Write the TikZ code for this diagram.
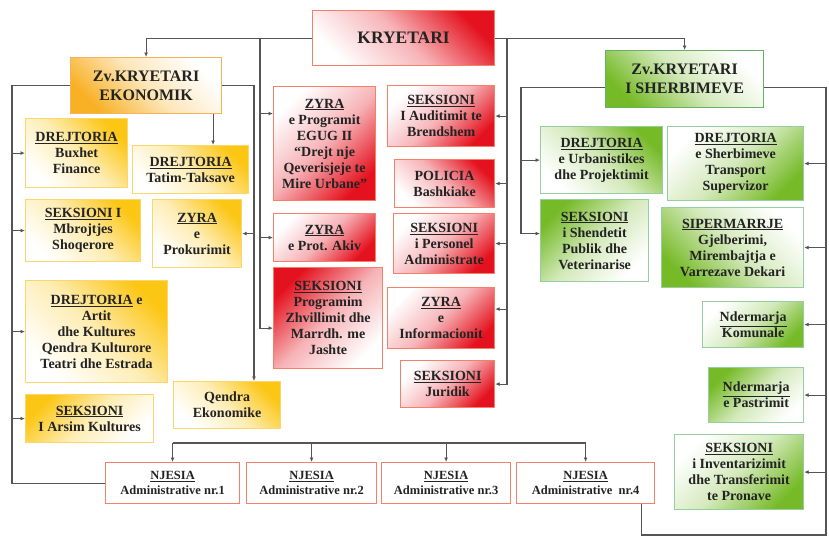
\documentclass[tikz,border=0pt]{standalone}
\usepackage{fontspec}
\setmainfont{Liberation Serif}
\usetikzlibrary{positioning, arrows.meta}

\definecolor{gold}{RGB}{252,198,20}
\definecolor{goldline}{RGB}{250,214,110}
\definecolor{orng}{RGB}{248,176,36}
\definecolor{orngline}{RGB}{246,178,88}
\definecolor{redf}{RGB}{228,18,30}
\definecolor{redline}{RGB}{244,128,108}
\definecolor{grnf}{RGB}{118,186,40}
\definecolor{grnline}{RGB}{150,206,160}
\definecolor{grnedge}{RGB}{104,176,104}
\definecolor{wire}{RGB}{85,85,85}
\definecolor{ink}{RGB}{35,35,35}
\newcommand{\hd}[1]{\underline{#1}}

\begin{document}
\begin{tikzpicture}[
    x=1pt, y=-1pt,
    box/.style={
        draw,
        line width=1.2pt,
        anchor=north west,
        align=center,
        inner sep=2pt,
        text=ink,
        font=\fontsize{14}{16}\selectfont\bfseries
    },
    wh/.style 2 args={minimum width=#1, minimum height=#2},
    tint/.style 2 args={
        top color=white,
        bottom color=#1,
        middle color=white!68!#1,
        shading angle=#2
    },
    ybox/.style={box, draw=goldline, tint={gold}{#1}},
    ybox/.default=135,
    rbox/.style={box, draw=redline, tint={redf}{#1}},
    rbox/.default=45,
    gbox/.style={box, draw=grnline, tint={grnf}{#1}},
    gbox/.default=45,
    nbox/.style={
        box,
        draw=redline,
        fill=white,
        font=\fontsize{12.5}{15}\selectfont\bfseries
    },
    arrow/.style={
        -{Latex[length=4.5pt, width=4pt]},
        line width=1.1pt,
        draw=wire
    },
    wireline/.style={
        line width=1.1pt,
        draw=wire
    }
]
\useasboundingbox (0,0) rectangle (829,536);

\node[rbox=135, wh={182}{55}, font=\fontsize{17.5}{20}\selectfont\bfseries] (kry) at (312,10) {KRYETARI};

\node[box, draw=orngline, tint={orng}{-45}, wh={151}{56}, font=\fontsize{16}{19}\selectfont\bfseries] (ekon) at (70,57)
    {Zv.KRYETARI\\EKONOMIK};

\node[box, draw=grnedge, tint={grnf}{-45}, wh={158}{57}, font=\fontsize{16}{19}\selectfont\bfseries] (sherb) at (605,50)
    {Zv.KRYETARI\\I SHERBIMEVE};

\node[ybox, wh={102}{69}] (buxhet) at (25,118) {\hd{DREJTORIA}\\Buxhet\\Finance};
\node[ybox, wh={116}{48}] (tatim) at (132,145) {\hd{DREJTORIA}\\Tatim-Taksave};
\node[ybox, wh={115}{62}] (mbrojt) at (25,199) {\hd{SEKSIONI} I\\Mbrojtjes\\Shoqerore};
\node[ybox, wh={89}{68}] (prokur) at (152,199) {\hd{ZYRA}\\e\\Prokurimit};
\node[ybox, wh={142}{102}] (artit) at (25,280)
    {\hd{DREJTORIA} e\\Artit\\dhe Kultures\\Qendra Kulturore\\Teatri dhe Estrada};
\node[ybox=-135, wh={128}{48}] (arsim) at (25,394) {\hd{SEKSIONI}\\I Arsim Kultures};
\node[ybox, wh={107}{47}] (qendra) at (173,381) {Qendra\\Ekonomike};

\node[rbox, wh={102}{114}] (egug) at (273,86)
    {\hd{ZYRA}\\e Programit\\EGUG II\\``Drejt nje\\Qeverisjeje te\\Mire Urbane''};
\node[rbox, wh={102}{48}] (akiv) at (273,213) {\hd{ZYRA}\\e Prot. Akiv};
\node[rbox=-135, wh={109}{101}] (programim) at (273,267)
    {\hd{SEKSIONI}\\Programim\\Zhvillimit dhe\\Marrdh. me\\Jashte};

\node[rbox, wh={107}{61}] (audit) at (387,85) {\hd{SEKSIONI}\\I Auditimit te\\Brendshem};
\node[rbox=135, wh={100}{48}] (policia) at (394,159) {POLICIA\\Bashkiake};
\node[rbox, wh={101}{60}] (personel) at (393,213) {\hd{SEKSIONI}\\i Personel\\Administrate};
\node[rbox, wh={107}{61}] (inform) at (387,287) {\hd{ZYRA}\\e\\Informacionit};
\node[rbox, wh={94}{47}] (juridik) at (400,360) {\hd{SEKSIONI}\\Juridik};

\node[gbox=135, wh={122}{67}] (urban) at (540,126) {\hd{DREJTORIA}\\e Urbanistikes\\dhe Projektimit};
\node[gbox, wh={136}{74}] (transport) at (667,126)
    {\hd{DREJTORIA}\\e Sherbimeve\\Transport\\Supervizor};
\node[gbox=-135, wh={108}{82}] (shendet) at (540,199)
    {\hd{SEKSIONI}\\i Shendetit\\Publik dhe\\Veterinarise};
\node[gbox=-45, wh={142}{80}] (siperm) at (661,207)
    {\hd{SIPERMARRJE}\\Gjelberimi,\\Mirembajtja e\\Varrezave Dekari};
\node[gbox, wh={101}{46}] (komunale) at (702,301) {\hd{Ndermarja}\\Komunale};
\node[gbox=-135, wh={95}{55}] (pastrim) at (708,367) {\hd{Ndermarja}\\e Pastrimit};
\node[gbox, wh={129}{75}] (invent) at (674,434)
    {\hd{SEKSIONI}\\i Inventarizimit\\dhe Transferimit\\te Pronave};

\node[nbox, wh={134}{41}] (nj1) at (105,462) {\hd{NJESIA}\\Administrative nr.1};
\node[nbox, wh={130}{41}] (nj2) at (246,462) {\hd{NJESIA}\\Administrative nr.2};
\node[nbox, wh={129}{41}] (nj3) at (381,462) {\hd{NJESIA}\\Administrative nr.3};
\node[nbox, wh={138}{41}] (nj4) at (516,462) {\hd{NJESIA}\\Administrative\ \ nr.4};

\coordinate (busl) at (12,0);
\coordinate (buse) at (254,0);
\coordinate (busm) at (260,0);
\coordinate (busr) at (507,0);
\coordinate (buss) at (521,0);
\coordinate (busf) at (826,0);
\coordinate (busb) at (0,443);
\coordinate (foot) at (0,535);

\draw[arrow] (kry.west) -| (ekon.north);
\draw[arrow] (kry.east) -| (sherb.north);

\draw[arrow] (kry.west -| busm) |- ([yshift=-10]programim.west);
\draw[arrow] ([yshift=30]egug.west -| busm) -- ([yshift=30]egug.west);
\draw[arrow] (akiv.west -| busm) -- (akiv.west);

\draw[arrow] (ekon.east) -| (qendra.north -| buse);
\draw[arrow] (prokur.east -| buse) -- (prokur.east);
\draw[arrow] ([xshift=67]ekon.south) -- ([xshift=67]ekon.south |- tatim.north);

\draw[wireline] (ekon.west) -| (busl |- nj1.west) -- (nj1.west);
\draw[arrow] (buxhet.west -| busl) -- (buxhet.west);
\draw[arrow] (mbrojt.west -| busl) -- (mbrojt.west);
\draw[arrow] (artit.west -| busl) -- (artit.west);
\draw[arrow] (arsim.west -| busl) -- (arsim.west);

\draw[arrow] (kry.east -| busr) |- (juridik.east);
\draw[arrow] (audit.east -| busr) -- (audit.east);
\draw[arrow] (policia.east -| busr) -- (policia.east);
\draw[arrow] (personel.east -| busr) -- (personel.east);
\draw[arrow] ([yshift=9]inform.east -| busr) -- ([yshift=9]inform.east);

\draw[arrow] ([yshift=-8]sherb.west) -| ([yshift=7]shendet.west -| buss) -- ([yshift=7]shendet.west);
\draw[arrow] (urban.west -| buss) -- (urban.west);

\draw[wireline] ([yshift=-8]sherb.east) -| (busf |- foot) -| ([xshift=56]nj4.south);
\draw[arrow] (transport.east -| busf) -- (transport.east);
\draw[arrow] (siperm.east -| busf) -- (siperm.east);
\draw[arrow] (komunale.east -| busf) -- (komunale.east);
\draw[arrow] (pastrim.east -| busf) -- (pastrim.east);
\draw[arrow] (invent.east -| busf) -- (invent.east);

\draw[wireline] (busb -| nj1.north) -- (busb -| nj4.north);
\draw[arrow] (busb -| nj1.north) -- (nj1.north);
\draw[arrow] (busb -| nj2.north) -- (nj2.north);
\draw[arrow] (busb -| nj3.north) -- (nj3.north);
\draw[arrow] (busb -| nj4.north) -- (nj4.north);

\end{tikzpicture}
\end{document}
